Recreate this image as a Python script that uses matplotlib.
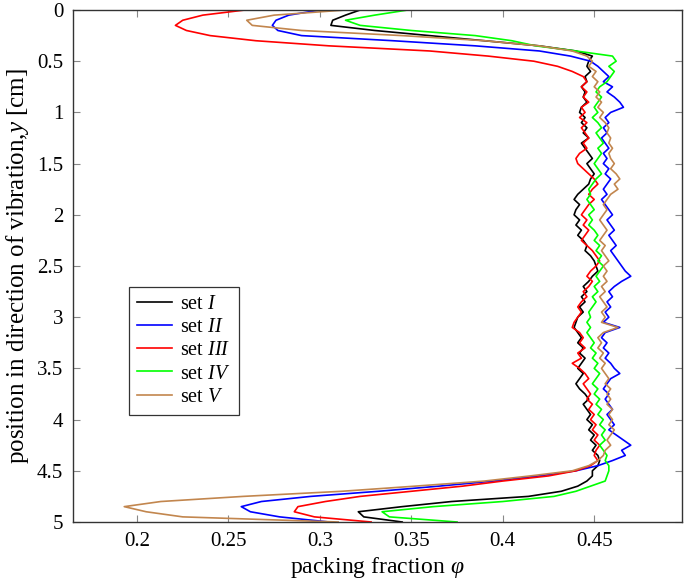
import numpy as np
import matplotlib
matplotlib.use("Agg")
import matplotlib.pyplot as plt

# position along the vibration direction [cm], one value every 0.05 cm
y_pos = np.round(np.arange(0, 101) * 0.05, 2)

phi_set1 = [
    0.322, 0.314, 0.307, 0.306, 0.330, 0.360, 0.390, 0.420, 0.440, 0.449,
    0.447, 0.446, 0.448, 0.445, 0.446, 0.443, 0.445, 0.444, 0.446, 0.443,
    0.442, 0.445, 0.443, 0.446, 0.444, 0.447, 0.443, 0.445, 0.447, 0.449,
    0.446, 0.448, 0.450, 0.448, 0.447, 0.444, 0.441, 0.439, 0.442, 0.440,
    0.439, 0.442, 0.440, 0.443, 0.441, 0.444, 0.446, 0.445, 0.448, 0.450,
    0.451, 0.452, 0.449, 0.447, 0.444, 0.446, 0.443, 0.445, 0.442, 0.444,
    0.441, 0.440, 0.439, 0.441, 0.443, 0.441, 0.444, 0.442, 0.445, 0.443,
    0.441, 0.444, 0.442, 0.440, 0.442, 0.445, 0.447, 0.444, 0.446, 0.448,
    0.446, 0.449, 0.447, 0.450, 0.448, 0.451, 0.449, 0.452, 0.453, 0.452,
    0.449, 0.449, 0.446, 0.441, 0.432, 0.414, 0.372, 0.345, 0.321, 0.324,
    0.345,
]
phi_set2 = [
    0.300, 0.283, 0.276, 0.274, 0.277, 0.290, 0.340, 0.385, 0.420, 0.437,
    0.448, 0.452, 0.455, 0.458, 0.455, 0.460, 0.457, 0.461, 0.464, 0.466,
    0.459, 0.456, 0.458, 0.455, 0.457, 0.454, 0.456, 0.458, 0.455, 0.457,
    0.455, 0.458, 0.456, 0.459, 0.457, 0.455, 0.457, 0.454, 0.456, 0.458,
    0.460, 0.457, 0.459, 0.461, 0.458, 0.460, 0.462, 0.459, 0.461, 0.463,
    0.465, 0.467, 0.470, 0.465, 0.461, 0.458, 0.460, 0.457, 0.459, 0.456,
    0.458, 0.455, 0.464, 0.456, 0.454, 0.457, 0.455, 0.458, 0.456, 0.459,
    0.461, 0.464, 0.459, 0.457, 0.455, 0.458, 0.456, 0.458, 0.460, 0.457,
    0.459, 0.461, 0.458, 0.462, 0.466, 0.470, 0.465, 0.467, 0.460, 0.452,
    0.440, 0.420, 0.395, 0.365, 0.332, 0.295, 0.268, 0.257, 0.262, 0.278,
    0.305,
]
phi_set3 = [
    0.259, 0.236, 0.225, 0.221, 0.227, 0.240, 0.265, 0.305, 0.360, 0.392,
    0.417, 0.430, 0.438, 0.444, 0.446, 0.443, 0.446, 0.444, 0.447, 0.443,
    0.445, 0.442, 0.446, 0.443, 0.445, 0.447, 0.444, 0.446, 0.442, 0.440,
    0.441, 0.444, 0.447, 0.450, 0.452, 0.449, 0.447, 0.450, 0.447, 0.445,
    0.443, 0.446, 0.444, 0.447, 0.445, 0.443, 0.446, 0.449, 0.451, 0.453,
    0.451, 0.448, 0.446, 0.449, 0.447, 0.444, 0.446, 0.443, 0.441, 0.443,
    0.441, 0.439, 0.438, 0.442, 0.444, 0.442, 0.445, 0.441, 0.443, 0.438,
    0.442, 0.445, 0.447, 0.444, 0.446, 0.448, 0.446, 0.449, 0.447, 0.450,
    0.448, 0.451, 0.449, 0.452, 0.450, 0.453, 0.451, 0.450, 0.452, 0.448,
    0.440, 0.425, 0.400, 0.378, 0.350, 0.322, 0.303, 0.288, 0.286, 0.297,
    0.328,
]
phi_set4 = [
    0.348, 0.330, 0.314, 0.322, 0.350, 0.385, 0.405, 0.418, 0.440, 0.460,
    0.462, 0.458, 0.461, 0.459, 0.457, 0.453, 0.451, 0.454, 0.452, 0.450,
    0.452, 0.449, 0.452, 0.454, 0.451, 0.453, 0.455, 0.452, 0.454, 0.452,
    0.450, 0.452, 0.454, 0.451, 0.449, 0.447, 0.448, 0.446, 0.448, 0.450,
    0.447, 0.449, 0.447, 0.450, 0.452, 0.450, 0.453, 0.451, 0.454, 0.452,
    0.455, 0.453, 0.451, 0.453, 0.450, 0.452, 0.449, 0.451, 0.449, 0.447,
    0.448, 0.446, 0.448, 0.446, 0.448, 0.450, 0.448, 0.451, 0.449, 0.452,
    0.450, 0.453, 0.451, 0.449, 0.452, 0.450, 0.453, 0.451, 0.454, 0.452,
    0.455, 0.453, 0.456, 0.454, 0.456, 0.453, 0.455, 0.457, 0.456, 0.458,
    0.458, 0.457, 0.456, 0.448, 0.440, 0.428, 0.400, 0.362, 0.334, 0.338,
    0.375,
]
phi_set5 = [
    0.314, 0.275, 0.260, 0.263, 0.290, 0.345, 0.390, 0.420, 0.438, 0.446,
    0.449, 0.447, 0.451, 0.449, 0.452, 0.450, 0.453, 0.451, 0.454, 0.452,
    0.455, 0.453, 0.456, 0.458, 0.457, 0.459, 0.458, 0.460, 0.458, 0.459,
    0.461, 0.459, 0.462, 0.464, 0.461, 0.463, 0.459, 0.457, 0.455, 0.457,
    0.455, 0.453, 0.455, 0.457, 0.455, 0.453, 0.456, 0.454, 0.456, 0.458,
    0.455, 0.457, 0.455, 0.457, 0.454, 0.456, 0.453, 0.455, 0.457, 0.454,
    0.456, 0.454, 0.463, 0.455, 0.452, 0.454, 0.452, 0.455, 0.453, 0.456,
    0.454, 0.456, 0.458, 0.456, 0.459, 0.457, 0.459, 0.457, 0.460, 0.458,
    0.460, 0.458, 0.461, 0.459, 0.457, 0.459, 0.456, 0.455, 0.452, 0.447,
    0.438, 0.415, 0.390, 0.352, 0.312, 0.258, 0.213, 0.193, 0.205, 0.225,
    0.310,
]

series = [
    ("set $I$", phi_set1, "black"),
    ("set $II$", phi_set2, "#0000ff"),
    ("set $III$", phi_set3, "#ff0000"),
    ("set $IV$", phi_set4, "#00ff00"),
    ("set $V$", phi_set5, "#c2864e"),
]

plt.rcParams["font.family"] = ["Liberation Serif", "DejaVu Serif"]
plt.rcParams["mathtext.fontset"] = "custom"
plt.rcParams["mathtext.rm"] = "Liberation Serif"
plt.rcParams["mathtext.it"] = "Liberation Serif:italic"

fig = plt.figure(figsize=(6.85, 5.82), dpi=100)
ax = fig.add_axes([0.1066, 0.1031, 0.8890, 0.8797])

for label, phi, color in series:
    ax.plot(phi, y_pos, color=color, lw=1.2, label=label)

ax.set_xlim(0.165, 0.498)
ax.set_ylim(5, 0)
ax.set_xticks([0.2, 0.25, 0.3, 0.35, 0.4, 0.45])
ax.set_xticklabels(["0.2", "0.25", "0.3", "0.35", "0.4", "0.45"])
ax.set_yticks(np.arange(0, 5.01, 0.5))
ax.set_yticklabels([f"{v:g}" for v in np.arange(0, 5.01, 0.5)])
ax.tick_params(direction="in", top=True, right=True, length=5, width=0.8,
               color="#888888", labelsize=15, pad=7)
for sp in ax.spines.values():
    sp.set_color("#333333")
    sp.set_linewidth(1.0)

ax.set_xlabel(r"packing fraction $\varphi$", fontsize=17, labelpad=3)
ax.set_ylabel(r"position in direction of vibration,$y$ [cm]", fontsize=18, labelpad=4)

leg = ax.legend(loc="upper left", bbox_to_anchor=(0.092, 0.459), borderaxespad=0,
                fancybox=False, edgecolor="black", fontsize=14.5, handlelength=1.75,
                labelspacing=0.2, borderpad=0.4, handletextpad=0.4)
leg.get_frame().set_linewidth(0.9)

fig.savefig("out.png", dpi=100)
